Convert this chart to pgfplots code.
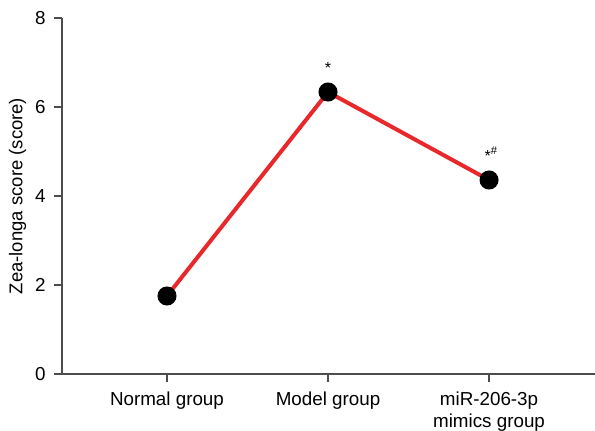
\documentclass[border=0pt]{standalone}
\usepackage{pgfplots}
\pgfplotsset{compat=1.18}
\usepackage{fontspec}
\setmainfont{Liberation Sans}
\definecolor{axgray}{HTML}{4D4D4D}
\definecolor{lred}{HTML}{E8282B}
\begin{document}
\begin{tikzpicture}
\begin{axis}[
  scale only axis,
  width=533bp, height=356bp,
  xmin=-0.652, xmax=2.658,
  ymin=0, ymax=8,
  ytick={0,2,4,6,8},
  xtick={0,1,2},
  xticklabels={Normal group, Model group, {miR-206-3p\\mimics group}},
  xticklabel style={align=center, font=\fontsize{18.8bp}{22bp}\selectfont, yshift=-6bp},
  yticklabel style={font=\fontsize{18.8bp}{22bp}\selectfont, xshift=-5bp},
  /pgf/number format/assume math mode=true,
  axis lines*=left,
  axis line style={axgray, line width=1.3bp},
  tick style={axgray, line width=1.3bp},
  tick align=outside,
  major tick length=8bp,
  ylabel={Zea-longa score (score)},
  ylabel style={font=\fontsize{18.5bp}{21bp}\selectfont, yshift=2bp},
  clip=false,
]
\coordinate (ll) at (rel axis cs:0,0);
\addplot[lred, line width=4bp, mark=*, mark size=7.5bp, mark options={black, fill=black}]
  coordinates {(0,1.753) (1,6.337) (2,4.36)};
\node[anchor=north, inner sep=0, font=\fontsize{16bp}{18bp}\selectfont] at (axis cs:1,6.337) [yshift=30bp] {*};
\node[anchor=north, inner sep=0, font=\fontsize{16bp}{18bp}\selectfont] at (axis cs:2,4.36) [yshift=33bp, xshift=2bp] {*\textsuperscript{\#}};
\end{axis}
\pgfresetboundingbox
\path (ll) ++(-62bp,-57bp) rectangle ++(595bp,431bp);
\end{tikzpicture}
\end{document}
